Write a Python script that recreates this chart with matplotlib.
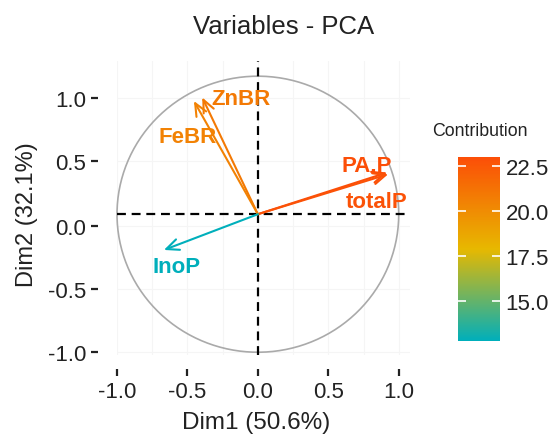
import matplotlib as mpl
import matplotlib.pyplot as plt
from matplotlib.colors import LinearSegmentedColormap, Normalize
import numpy as np

mpl.use('Agg')
plt.rcParams['font.family'] = ['Liberation Sans', 'DejaVu Sans']
plt.rcParams['axes.unicode_minus'] = False

# variable coordinates on Dim1 / Dim2 and contribution
variables = ["PA.P", "totalP", "ZnBR", "FeBR", "InoP"]
dim1 = [0.918, 0.925, -0.395, -0.454, -0.667]
dim2 = [0.302, 0.290, 0.846, 0.820, -0.259]
contrib = [23.0, 22.8, 20.9, 20.5, 12.8]

# where the labels sit (data coords)
label_x = [0.77, 0.84, -0.12, -0.50, -0.58]
label_y = [0.35, 0.09, 0.84, 0.56, -0.38]

x_ticks = [-1.0, -0.5, 0.0, 0.5, 1.0]
x_ticklabels = ["-1.0", "-0.5", "0.0", "0.5", "1.0"]
# y labels in the source are shifted relative to the circle
y_ticks = [0.841, 0.384, -0.087, -0.543, -1.0]
y_ticklabels = ["1.0", "0.5", "0.0", "-0.5", "-1.0"]
cbar_ticks = [15.0, 17.5, 20.0, 22.5]

cmap = LinearSegmentedColormap.from_list("contrib", ["#00AFBB", "#E7B800", "#FC4E07"])
norm = Normalize(vmin=min(contrib), vmax=max(contrib))

fig = plt.figure(figsize=(5.51, 4.35), dpi=100)
ax = fig.add_axes([117 / 551, 1 - 356 / 435, 293 / 551, 294 / 435])

ax.set_xlim(-1.0, 1.08)
ax.set_ylim(-1.02, 1.11)

# faint background grid
ax.set_xticks([-0.75, -0.25, 0.25, 0.75], minor=True)
ax.grid(which='both', color='#F5F5F5', linewidth=0.8, zorder=0)
ax.set_axisbelow(True)

# correlation circle
t = np.linspace(0, 2 * np.pi, 400)
ax.plot(np.cos(t), np.sin(t), color='#AAAAAA', linewidth=1.2, clip_on=False, zorder=2)

ax.axhline(0, color='black', linewidth=1.6, linestyle=(0, (4, 2.6)), zorder=3)
ax.axvline(0, color='black', linewidth=1.6, linestyle=(0, (4, 2.6)), zorder=3)

for i in range(len(variables)):
    c = cmap(norm(contrib[i]))
    ax.annotate('', xy=(dim1[i], dim2[i]), xytext=(0, 0),
                arrowprops=dict(arrowstyle='->,head_length=0.45,head_width=0.2',
                                color=c, lw=1.5, shrinkA=0, shrinkB=0,
                                mutation_scale=20), zorder=4)
    ax.text(label_x[i], label_y[i], variables[i], color=c, fontsize=16,
            fontweight='bold', ha='center', va='center', zorder=5)

for s in ax.spines.values():
    s.set_visible(False)
ax.spines['bottom'].set_position(('outward', 10))
ax.spines['left'].set_position(('outward', 14))

ax.set_xticks(x_ticks)
ax.set_xticklabels(x_ticklabels)
ax.set_yticks(y_ticks)
ax.set_yticklabels(y_ticklabels)
ax.tick_params(axis='both', length=5, width=1.6, color='#222222',
               labelsize=16, labelcolor='#222222')
ax.tick_params(which='minor', length=0)
ax.tick_params(axis='x', pad=4)
ax.tick_params(axis='y', pad=3)

# colour bar
cax = fig.add_axes([458 / 551, 1 - 342 / 435, 42 / 551, 184 / 435])
sm = mpl.cm.ScalarMappable(norm=norm, cmap=cmap)
cb = fig.colorbar(sm, cax=cax, ticks=cbar_ticks)
cb.outline.set_visible(False)
cb.ax.set_yticklabels(["15.0", "17.5", "20.0", "22.5"])
cb.ax.tick_params(direction='in', length=6, width=1.2, color='white',
                  left=True, right=True, labelsize=16, labelcolor='#222222', pad=4)
cb.ax.minorticks_off()

fig.text(480 / 551, 1 - 132 / 435, "Contribution", fontsize=12.8,
         ha='center', va='center', color='#222222')
fig.text(283.5 / 551, 1 - 27 / 435, "Variables - PCA", fontsize=18.5,
         ha='center', va='center', color='#222222')
fig.text(256 / 551, 1 - 423 / 435, "Dim1 (50.6%)", fontsize=17.5,
         ha='center', va='center', color='#222222')
fig.text(27 / 551, 1 - 215 / 435, "Dim2 (32.1%)", fontsize=17,
         ha='center', va='center', rotation=90, color='#222222')

plt.savefig("out.png", dpi=100)
